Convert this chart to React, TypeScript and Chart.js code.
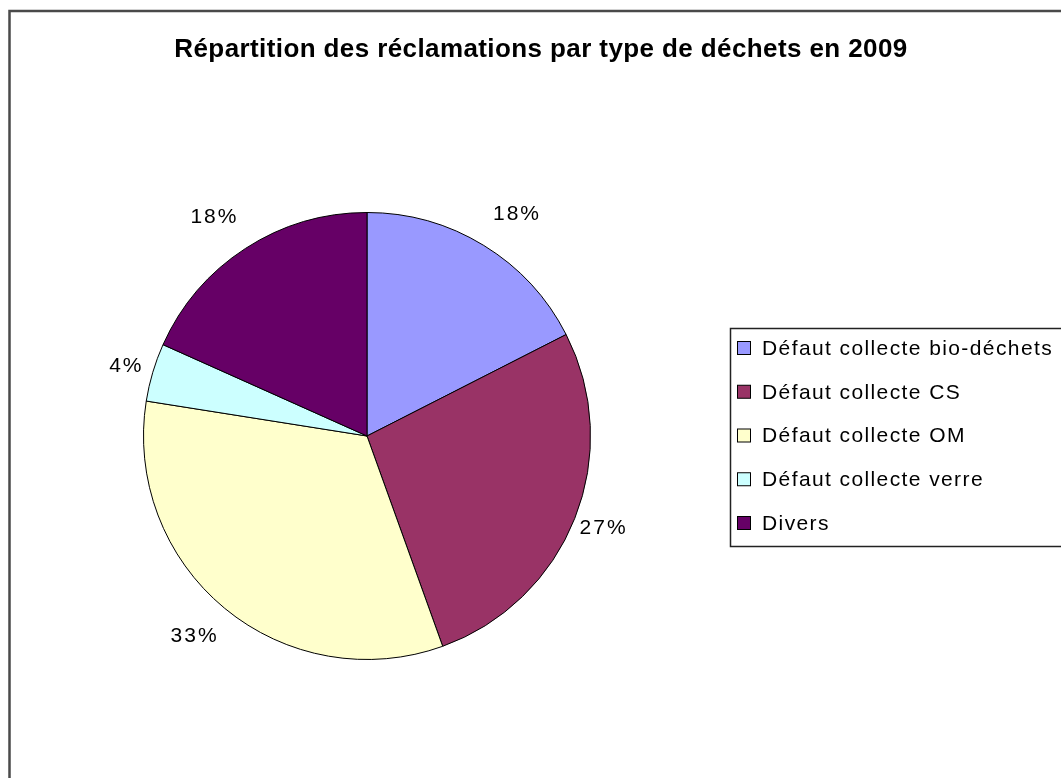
import React, { useEffect, useRef } from "react";
import { Chart, registerables } from "chart.js";

Chart.register(...registerables);

const TITLE = "Répartition des réclamations par type de déchets en 2009";
const categories = [
  "Défaut collecte bio-déchets",
  "Défaut collecte CS",
  "Défaut collecte OM",
  "Défaut collecte verre",
  "Divers",
];
const values = [17.5, 27.0, 33.0, 4.2, 18.3];
const colors = ["#9999FF", "#993366", "#FFFFCC", "#CCFFFF", "#660066"];

const FONT = "'Liberation Sans', Arial, sans-serif";

const decorPlugin = {
  id: "decor",
  beforeDraw(chart: any) {
    const ctx = chart.ctx;
    ctx.save();
    ctx.fillStyle = "#ffffff";
    ctx.fillRect(0, 0, chart.width, chart.height);
    ctx.strokeStyle = "#4a4a4a";
    ctx.lineWidth = 2.5;
    ctx.strokeRect(9.5, 11, 1200, 1000);
    ctx.restore();
  },
  afterDraw(chart: any) {
    const ctx = chart.ctx;
    ctx.save();
    // title
    ctx.fillStyle = "#000";
    ctx.font = `bold 26px ${FONT}`;
    (ctx as any).letterSpacing = "0.4px";
    ctx.textAlign = "center";
    ctx.textBaseline = "alphabetic";
    ctx.fillText(TITLE, 541, 57);

    // percent labels
    const meta = chart.getDatasetMeta(0);
    const data = chart.data.datasets[0].data as number[];
    const total = data.reduce((a, b) => a + b, 0);
    ctx.font = `21px ${FONT}`;
    (ctx as any).letterSpacing = "2px";
    ctx.textAlign = "center";
    ctx.textBaseline = "middle";
    meta.data.forEach((arc: any, i: number) => {
      const mid = (arc.startAngle + arc.endAngle) / 2;
      const r = arc.outerRadius;
      const c = Math.cos(mid); // horizontal component
      const s = Math.sin(mid); // vertical component (down positive)
      const x = arc.x + (r - 11) * c + 38 * Math.sign(c);
      const y = arc.y + (r + 44) * s - 6 * Math.sign(s);
      const txt = Math.round((data[i] / total) * 100) + "%";
      ctx.fillText(txt, x + 1, y);
    });

    // legend
    const lx = 730.5;
    const ly = 328.5;
    ctx.strokeStyle = "#222";
    ctx.lineWidth = 1.5;
    ctx.strokeRect(lx, ly, 400, 218);
    ctx.font = `21px ${FONT}`;
    (ctx as any).letterSpacing = "1.4px";
    ctx.textAlign = "left";
    ctx.textBaseline = "middle";
    const labels = chart.data.labels as string[];
    const bg = chart.data.datasets[0].backgroundColor as string[];
    labels.forEach((lab, i) => {
      const cy = 348 + i * 43.75;
      ctx.fillStyle = bg[i];
      ctx.fillRect(737.5, cy - 6.5, 13, 13);
      ctx.strokeStyle = "#000";
      ctx.lineWidth = 1;
      ctx.strokeRect(737.5, cy - 6.5, 13, 13);
      ctx.fillStyle = "#000";
      ctx.fillText(lab, 762, cy + 1);
    });
    ctx.restore();
  },
};

export default function App() {
  const ref = useRef<HTMLCanvasElement | null>(null);
  useEffect(() => {
    if (!ref.current) return;
    const chart = new Chart(ref.current, {
      type: "pie",
      data: {
        labels: categories,
        datasets: [
          {
            data: values,
            backgroundColor: colors,
            borderColor: "#000000",
            borderWidth: 1,
          },
        ],
      },
      options: {
        responsive: false,
        animation: false,
        devicePixelRatio: 1,
        layout: { padding: { left: 143, right: 470, top: 212, bottom: 118 } },
        plugins: {
          legend: { display: false },
          title: { display: false },
          tooltip: { enabled: false },
        },
      },
      plugins: [decorPlugin],
    });
    return () => chart.destroy();
  }, []);
  return (
    <div style={{ position: "absolute", left: 0, top: 0, width: 1061, height: 778, overflow: "hidden" }}>
      <canvas ref={ref} width={1061} height={778} style={{ display: "block" }} />
    </div>
  );
}
